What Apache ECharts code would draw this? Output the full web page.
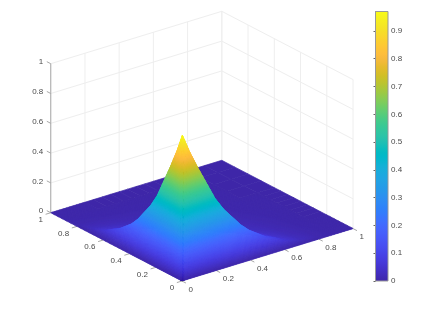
<!DOCTYPE html>
<html><head><meta charset="utf-8">
<style>html,body{margin:0;padding:0;background:#fff}#c{width:423px;height:317px}</style>
<script src="https://cdn.jsdelivr.net/npm/echarts@6/dist/echarts.min.js"></script>
</head><body><div id="c"></div>
<script>
// ---- data ----
const xNodes = [0, .01, .05, .1, .15, .2, .25, .3, .35, .4, .45, .5, .55, .6, .7, .8, .9, 1];
const yNodes = [0, .01, .05, .1, .15, .2, .25, .3, .35, .4, .45, .5, .55, .6, .7, .8, .9, 1];
const zRows = [
 [0,0,0,0,0,0,0,0,0,0,0,0,0,0,0,0,0,0],
 [0,.970,.850,.720,.600,.480,.390,.320,.250,.195,.155,.115,.090,.060,.027,.008,.001,0],
 [0,.850,.745,.631,.526,.420,.342,.280,.219,.171,.136,.101,.079,.053,.024,.007,.001,0],
 [0,.720,.631,.534,.445,.356,.289,.237,.186,.145,.115,.085,.067,.045,.020,.006,.001,0],
 [0,.600,.526,.446,.371,.297,.241,.198,.155,.121,.096,.071,.056,.037,.017,.005,.001,0],
 [0,.480,.421,.356,.297,.238,.193,.158,.124,.097,.077,.057,.045,.030,.013,.004,0,0],
 [0,.390,.342,.289,.241,.193,.157,.129,.101,.078,.062,.046,.036,.024,.011,.003,0,0],
 [0,.320,.281,.238,.198,.158,.129,.106,.083,.064,.051,.038,.030,.020,.009,.003,0,0],
 [0,.250,.219,.186,.155,.124,.101,.083,.065,.050,.040,.030,.023,.015,.007,.002,0,0],
 [0,.195,.171,.145,.121,.096,.078,.064,.050,.039,.031,.023,.018,.012,.005,.002,0,0],
 [0,.155,.136,.115,.096,.077,.062,.051,.040,.031,.025,.018,.014,.010,.004,.001,0,0],
 [0,.115,.101,.086,.071,.057,.046,.038,.030,.023,.018,.014,.011,.007,.003,.001,0,0],
 [0,.090,.079,.067,.056,.045,.036,.030,.023,.018,.014,.011,.008,.006,.003,.001,0,0],
 [0,.060,.053,.045,.037,.030,.024,.020,.015,.012,.010,.007,.006,.004,.002,0,0,0],
 [0,.027,.024,.020,.017,.013,.011,.009,.007,.005,.004,.003,.003,.002,.001,0,0,0],
 [0,.008,.007,.006,.005,.004,.003,.003,.002,.002,.001,.001,.001,0,0,0,0,0],
 [0,.001,.001,.001,.001,0,0,0,0,0,0,0,0,0,0,0,0,0],
 [0,0,0,0,0,0,0,0,0,0,0,0,0,0,0,0,0,0]
];
const axisTicks = [0, .2, .4, .6, .8, 1];
const colorTicks = [0, .1, .2, .3, .4, .5, .6, .7, .8, .9];
const colorMax = 0.97;
// ---- MATLAB parula colormap ----
const parula = [[.2422,.1504,.6603],[.2504,.165,.7076],[.2578,.1818,.7511],[.2647,.1978,.7952],[.2706,.2147,.8364],[.2751,.2342,.871],[.2783,.2559,.8991],[.2803,.2782,.9221],[.2813,.3006,.9414],[.281,.3228,.9579],[.2795,.3447,.9717],[.276,.3667,.9829],[.2699,.3892,.9906],[.2602,.4123,.9952],[.244,.4358,.9988],[.2206,.4603,.9973],[.1963,.4847,.9892],[.1834,.5074,.9798],[.1786,.5289,.9682],[.1764,.5499,.952],[.1687,.5703,.9359],[.154,.5902,.9218],[.146,.6091,.9079],[.138,.6276,.8973],[.1248,.6459,.8883],[.1113,.6635,.8763],[.0952,.6798,.8598],[.0689,.6948,.8394],[.0297,.7082,.8163],[.0036,.7203,.7917],[.0067,.7312,.766],[.0433,.7411,.7394],[.0964,.75,.712],[.1408,.7584,.6842],[.1717,.767,.6554],[.1938,.7758,.6251],[.2161,.7843,.5923],[.247,.7918,.5567],[.2906,.7973,.5188],[.3406,.8008,.4789],[.3909,.8029,.4354],[.4456,.8024,.3909],[.5044,.7993,.348],[.5616,.7942,.3045],[.6174,.7876,.2612],[.672,.7793,.2227],[.7242,.7698,.191],[.7738,.7598,.1646],[.8203,.7498,.1535],[.8634,.7406,.1596],[.9035,.733,.1774],[.9393,.7288,.21],[.9728,.7298,.2394],[.9956,.7434,.2371],[.997,.7659,.2199],[.9952,.7893,.2028],[.9892,.8136,.1885],[.9786,.8386,.1766],[.9676,.8639,.1643],[.961,.889,.1537],[.9597,.9135,.1423],[.9628,.9373,.1265],[.9691,.9606,.1064],[.9769,.9839,.0805]];
const rgb = c => 'rgb(' + c.map(v => Math.round(v * 255)).join(',') + ')';
function colorOf(z) {
  const t = Math.max(0, Math.min(1, z / colorMax)) * (parula.length - 1);
  const i = Math.min(parula.length - 2, Math.floor(t)), f = t - i;
  return rgb(parula[i].map((v, k) => v + (parula[i + 1][k] - v) * f));
}
// ---- view ----
const pxPerUnit = 215.6, frontX = 182, frontY = 281, W = 423, H = 317;
const azim = 37.5 * Math.PI / 180, elev = 23.53 * Math.PI / 180, zStretch = 149 / pxPerUnit;
const cosA = Math.cos(azim), sinA = Math.sin(azim), sinE = Math.sin(elev);
const view = (x, y, z) => [cosA * x - sinA * y, sinE * (sinA * x + cosA * y) + zStretch * z];
const FONT = '8px "Liberation Sans", Arial, sans-serif', TXT = '#4a4a4a', TICK = '#a8a8a8', GRIDC = '#eeeeee';

// wall grid lines
const wallLines = [];
axisTicks.forEach(t => {
  wallLines.push([t, 1, 0, t, 1, 1]);   // back-left wall verticals
  wallLines.push([1, t, 0, 1, t, 1]);   // back-right wall verticals
  wallLines.push([0, 1, t, 1, 1, t]);   // back-left wall horizontals
  wallLines.push([1, 0, t, 1, 1, t]);   // back-right wall horizontals
});
// dark axis pieces
const axisLines = [[0, 1, 0, 0, 1, 1]];
const tickLen = .03;
axisTicks.forEach(t => {
  axisLines.push([0, 1, t, 0, 1 + tickLen, t]);
  axisLines.push([t, 0, 0, t, -tickLen, 0]);
  axisLines.push([0, t, 0, -tickLen, t, 0]);
});
// tick labels
const labels = [];
axisTicks.forEach(t => {
  labels.push({ p: [t, 0, 0], s: String(t), dx: 6.5, dy: 8.6, a: 'left' });
  labels.push({ p: [0, t, 0], s: String(t), dx: -7.8, dy: 7, a: 'right' });
  labels.push({ p: [0, 1, t], s: String(t), dx: -7.5, dy: -1.5, a: 'right' });
});
// surface cells, far to near
const cells = [];
for (let i = xNodes.length - 2; i >= 0; i--) for (let j = yNodes.length - 2; j >= 0; j--) cells.push([i, j]);

function lineItem(rows, color) {
  return (params, api) => {
    const r = rows[params.dataIndex];
    const a = api.coord(view(r[0], r[1], r[2])), b = api.coord(view(r[3], r[4], r[5]));
    return { type: 'line', silent: true, shape: { x1: a[0], y1: a[1], x2: b[0], y2: b[1] }, style: { stroke: color, lineWidth: 1 } };
  };
}
function surfaceItem(params, api) {
  const [i, j] = cells[params.dataIndex];
  const x0 = xNodes[i], x1 = xNodes[i + 1], y0 = yNodes[j], y1 = yNodes[j + 1];
  const z00 = zRows[i][j], z10 = zRows[i + 1][j], z01 = zRows[i][j + 1], z11 = zRows[i + 1][j + 1];
  const P = (u, v) => {
    const z = (z00 * (1 - u) + z10 * u) * (1 - v) + (z01 * (1 - u) + z11 * u) * v;
    return { z, c: api.coord(view(x0 + (x1 - x0) * u, y0 + (y1 - y0) * v, z)) };
  };
  const len = (a, b) => Math.hypot(a.c[0] - b.c[0], a.c[1] - b.c[1]);
  const flat = z00 === z10 && z00 === z01 && z00 === z11;
  const nu = flat ? 1 : Math.max(1, Math.ceil(Math.max(len(P(0, 0), P(1, 0)), len(P(0, 1), P(1, 1))) / 1.5));
  const nv = flat ? 1 : Math.max(1, Math.ceil(Math.max(len(P(0, 0), P(0, 1)), len(P(1, 0), P(1, 1))) / 1.5));
  const children = [];
  for (let a = nu - 1; a >= 0; a--) for (let b = nv - 1; b >= 0; b--) {
    const p = [P(a / nu, b / nv), P((a + 1) / nu, b / nv), P((a + 1) / nu, (b + 1) / nv), P(a / nu, (b + 1) / nv)];
    const col = colorOf((p[0].z + p[1].z + p[2].z + p[3].z) / 4);
    children.push({ type: 'polygon', silent: true, shape: { points: p.map(q => q.c) }, style: { fill: col, stroke: col, lineWidth: .7 } });
  }
  return { type: 'group', silent: true, children };
}
const barStops = parula.map((c, i) => ({ offset: i / (parula.length - 1), color: rgb(c) }));

const chart = echarts.init(document.getElementById('c'), null, { renderer: 'canvas' });
chart.setOption({
  animation: false,
  backgroundColor: '#fff',
  grid: [
    { left: 0, top: 0, width: W, height: H },
    { left: 375.5, top: 11.5, width: 12.5, height: 269.5 }
  ],
  xAxis: [
    { gridIndex: 0, type: 'value', show: false, min: -frontX / pxPerUnit, max: (W - frontX) / pxPerUnit },
    { gridIndex: 1, type: 'value', show: false, min: 0, max: 1 }
  ],
  yAxis: [
    { gridIndex: 0, type: 'value', show: false, min: -(H - frontY) / pxPerUnit, max: frontY / pxPerUnit },
    { gridIndex: 1, type: 'value', position: 'right', min: 0, max: colorMax,
      axisLine: { show: true, lineStyle: { color: '#999', width: 1 } },
      axisTick: { show: true, inside: true, length: 2, customValues: colorTicks, lineStyle: { color: '#666' } },
      splitLine: { show: false },
      axisLabel: { margin: 3, fontSize: 8, color: TXT, fontFamily: 'Liberation Sans', customValues: colorTicks, formatter: v => String(+v.toFixed(1)) } }
  ],
  series: [
    { type: 'custom', name: 'walls', coordinateSystem: 'cartesian2d', clip: false, silent: true, z: 1, data: wallLines.map((r, i) => [i]), renderItem: lineItem(wallLines, GRIDC) },
    { type: 'custom', name: 'axes', coordinateSystem: 'cartesian2d', clip: false, silent: true, z: 2, data: axisLines.map((r, i) => [i]), renderItem: lineItem(axisLines, TICK) },
    { type: 'custom', name: 'surface', coordinateSystem: 'cartesian2d', clip: false, silent: true, z: 3, progressive: 0, data: cells, renderItem: surfaceItem },
    { type: 'custom', name: 'labels', coordinateSystem: 'cartesian2d', clip: false, silent: true, z: 4, data: labels.map((l, i) => [i]),
      renderItem: (params, api) => {
        const l = labels[params.dataIndex], c = api.coord(view(l.p[0], l.p[1], l.p[2]));
        return { type: 'text', silent: true, style: { text: l.s, x: c[0] + l.dx, y: c[1] + l.dy, fill: TXT, font: FONT, textAlign: l.a, textVerticalAlign: 'middle' } };
      } },
    { type: 'custom', name: 'colorbar', coordinateSystem: 'cartesian2d', xAxisIndex: 1, yAxisIndex: 1, clip: false, silent: true, z: 1, data: [[0, colorMax]],
      renderItem: (params, api) => {
        const a = api.coord([0, 0]), b = api.coord([1, colorMax]);
        return { type: 'rect', silent: true, shape: { x: a[0], y: b[1], width: b[0] - a[0], height: a[1] - b[1] },
          style: { fill: { type: 'linear', x: 0, y: 1, x2: 0, y2: 0, colorStops: barStops }, stroke: '#999', lineWidth: 1 } };
      } }
  ]
});
</script></body></html>
